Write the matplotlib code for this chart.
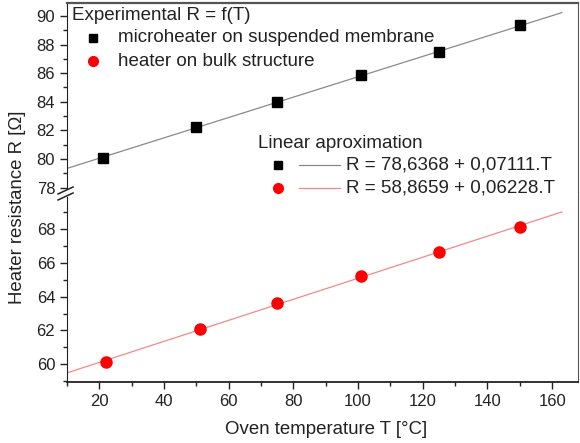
import matplotlib
matplotlib.use("Agg")
from matplotlib import pyplot as plt
from matplotlib.lines import Line2D
from matplotlib.patches import Rectangle
import numpy as np

# measured points
temp_membrane = [21, 50, 75, 101, 125, 150]
res_membrane = [80.1, 82.25, 84.0, 85.9, 87.45, 89.35]
temp_bulk = [22, 51, 75, 101, 125, 150]
res_bulk = [60.15, 62.1, 63.6, 65.25, 66.65, 68.15]

# linear fits (from the legend)
fit_membrane = (78.6368, 0.07111)
fit_bulk = (58.8659, 0.06228)
fit_range = [10, 163]

W, H = 580, 443
plt.rcParams['font.family'] = ['Liberation Sans', 'DejaVu Sans']
txt = '#222222'
fs = 13.5


def fx(px):
    return px / W


def fy(py):
    return 1 - py / H


fig = plt.figure(figsize=(W / 100, H / 100), dpi=100)
left, right = fx(67), fx(578)
ax_top = fig.add_axes([left, fy(192), right - left, fy(3) - fy(192)])
ax_bot = fig.add_axes([left, fy(382), right - left, fy(192) - fy(382)])

for ax in (ax_top, ax_bot):
    ax.set_xlim(10, 168)
    ax.set_xticks([20, 40, 60, 80, 100, 120, 140, 160])
    ax.set_xticks(np.arange(10, 170, 10), minor=True)
    ax.tick_params(which='major', direction='out', length=5, width=1,
                   labelsize=12, labelcolor=txt, colors='#222222', pad=3.5)
    ax.tick_params(which='minor', direction='out', length=3, width=1,
                   colors='#222222')
    ax.tick_params(top=False, right=False, which='both')
    ax.spines['left'].set_color('#222222')
    ax.spines['right'].set_color('#555555')

ax_top.set_ylim(77.7, 90.9)
ax_top.set_yticks(np.arange(78, 91, 2))
ax_top.set_yticks(np.arange(79, 91, 2), minor=True)
ax_top.spines['bottom'].set_visible(False)
ax_top.spines['top'].set_color('#555555')
ax_top.spines['top'].set_linewidth(1.6)
ax_top.tick_params(bottom=False, labelbottom=False, which='both')

ax_bot.set_ylim(58.95, 70.2)
ax_bot.set_yticks(np.arange(60, 69, 2))
ax_bot.set_yticks(np.arange(59, 70, 2), minor=True)
ax_bot.spines['top'].set_visible(False)
ax_bot.spines['bottom'].set_color('#222222')
ax_bot.spines['bottom'].set_linewidth(1.3)

xs = np.array(fit_range)
ax_top.plot(xs, fit_membrane[0] + fit_membrane[1] * xs, color='#8a8a8a', lw=0.9)
ax_bot.plot(xs, fit_bulk[0] + fit_bulk[1] * xs, color='#f08a8a', lw=0.9)
ax_top.plot(temp_membrane, res_membrane, 's', color='black', ms=7, zorder=3)
ax_bot.plot(temp_bulk, res_bulk, 'o', color='#ff0000', ms=8, zorder=3)

# axis labels
fig.text(fx(326), fy(430), 'Oven temperature T [°C]', ha='center', va='center',
         fontsize=13.4, color=txt)
fig.text(fx(18), fy(207), 'Heater resistance R [Ω]', ha='center', va='center',
         rotation=90, fontsize=13.4, color=txt)

# axis break
fig.add_artist(Rectangle((fx(60), fy(197)), fx(14), fy(190) - fy(197),
                         facecolor='white', edgecolor='none', zorder=5))
for dy in (0, 6):
    fig.add_artist(Line2D([fx(58), fx(73)], [fy(194 + dy), fy(187 + dy)],
                          color='#222222', lw=1.1, zorder=6))

# legend, first block
fig.text(fx(72), fy(16), 'Experimental R = f(T)', fontsize=fs, va='center', color=txt)
fig.add_artist(Line2D([fx(93)], [fy(38)], marker='s', color='black', ms=6))
fig.text(fx(118), fy(38), 'microheater on suspended membrane', fontsize=fs,
         va='center', color=txt)
fig.add_artist(Line2D([fx(93)], [fy(61)], marker='o', color='#ff0000', ms=7))
fig.text(fx(118), fy(61), 'heater on bulk structure', fontsize=fs,
         va='center', color=txt)

# legend, second block
fig.text(fx(258), fy(143), 'Linear aproximation', fontsize=fs, va='center', color=txt)
fig.add_artist(Line2D([fx(278)], [fy(165)], marker='s', color='black', ms=6))
fig.add_artist(Line2D([fx(299), fx(340)], [fy(165), fy(165)], color='#8a8a8a', lw=0.9))
fig.text(fx(346), fy(165), 'R = %s + %s.T' % ('78,6368', '0,07111'), fontsize=fs,
         va='center', color=txt)
fig.add_artist(Line2D([fx(278)], [fy(188)], marker='o', color='#ff0000', ms=7))
fig.add_artist(Line2D([fx(299), fx(340)], [fy(188), fy(188)], color='#f08a8a', lw=0.9))
fig.text(fx(346), fy(188), 'R = %s + %s.T' % ('58,8659', '0,06228'), fontsize=fs,
         va='center', color=txt)

fig.savefig('out.png', dpi=100)
